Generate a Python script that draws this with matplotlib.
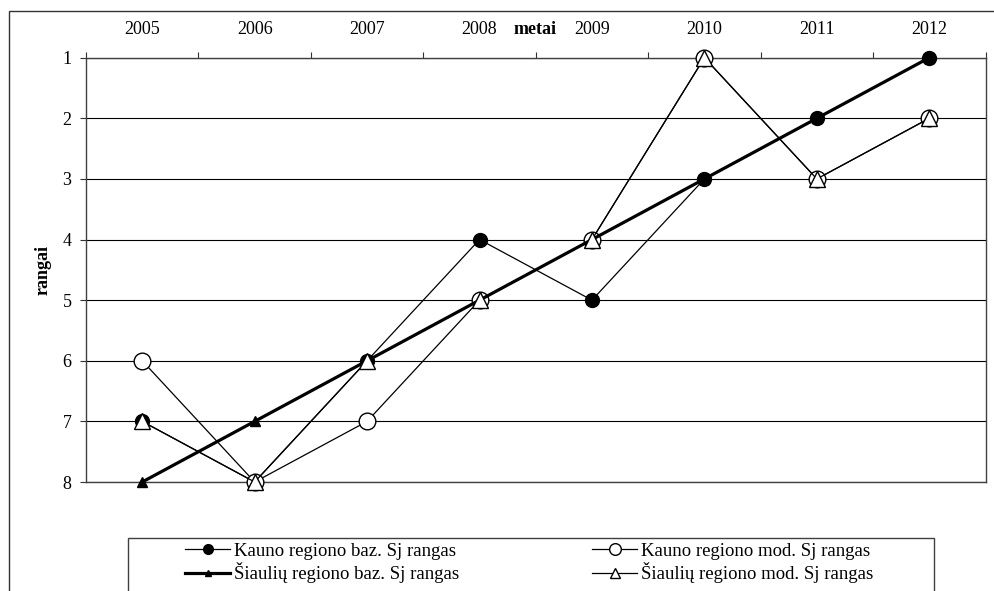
import numpy as np
import matplotlib
matplotlib.use("Agg")
import matplotlib.pyplot as plt
from matplotlib.patches import Rectangle

plt.rcParams['font.family'] = ['Liberation Serif', 'DejaVu Serif']
plt.rcParams['font.size'] = 13

years = ['2005', '2006', '2007', '2008', '2009', '2010', '2011', '2012']
kauno_baz = [7, 8, 6, 4, 5, 3, 2, 1]
kauno_mod = [6, 8, 7, 5, 4, 1, 3, 2]
siauliu_baz = [8, 7, 6, 5, 4, 3, 2, 1]
siauliu_mod = [7, 8, 6, 5, 4, 1, 3, 2]
ranks = [1, 2, 3, 4, 5, 6, 7, 8]

W, H = 994, 591
fig = plt.figure(figsize=(W / 100, H / 100), dpi=100)

# plot area in pixels
left, right, top, bottom = 86, 985.5, 57.7, 482
ax = fig.add_axes([left / W, 1 - bottom / H, (right - left) / W, (bottom - top) / H])

x = np.arange(len(years))

l1, = ax.plot(x, kauno_baz, color='black', lw=0.9, marker='o', ms=10, clip_on=False,
              mfc='black', mec='black', label='Kauno regiono baz. Sj rangas', zorder=3)
l2, = ax.plot(x, kauno_mod, color='black', lw=0.9, marker='o', ms=12, clip_on=False,
              mfc='white', mec='black', mew=1.0, label='Kauno regiono mod. Sj rangas', zorder=4)
l3, = ax.plot(x, siauliu_baz, color='black', lw=2.3, marker='^', ms=7, clip_on=False,
              mfc='black', mec='black', label='Šiaulių regiono baz. Sj rangas', zorder=5)
l4, = ax.plot(x, siauliu_mod, color='black', lw=0.9, marker='^', ms=11, clip_on=False,
              mfc='white', mec='black', mew=1.0, label='Šiaulių regiono mod. Sj rangas', zorder=6)

ax.set_xlim(-0.5, len(years) - 0.5)
ax.set_ylim(8, 1)
ax.set_yticks(ranks)
ax.yaxis.grid(True, color='black', lw=0.8)
ax.set_axisbelow(True)

ax.xaxis.tick_top()
ax.set_xticks(x)
ax.set_xticklabels(years)
ax.set_xticks(np.arange(len(years) + 1) - 0.5, minor=True)
ax.tick_params(axis='x', which='major', length=0, pad=14)
ax.tick_params(axis='x', which='minor', length=4.5, width=0.8, color='#333333', direction='out')
ax.tick_params(axis='y', length=4.5, width=0.8, color='#333333', pad=6)

for s in ax.spines.values():
    s.set_color('#404040')
    s.set_linewidth(1.0)

fig.text(535 / W, 1 - 29 / H, 'metai', fontweight='bold', ha='center', va='center')
fig.text(43 / W, 1 - 270 / H, 'rangai', fontweight='bold', rotation=90,
         ha='center', va='center')

# outer frame (runs off right and bottom edge)
fig.add_artist(Rectangle((9 / W, -0.1), 1.1, (1 - 11 / H) + 0.1, transform=fig.transFigure,
                         fill=False, ec='#333333', lw=1.0))
# legend frame
fig.add_artist(Rectangle((128 / W, -0.05), (934 - 128) / W, (1 - 538 / H) + 0.05,
                         transform=fig.transFigure, fill=False, ec='#404040', lw=1.0))

leg_kw = dict(frameon=False, loc='center left', borderpad=0, borderaxespad=0,
              handlelength=2.4, handletextpad=0.2, labelspacing=0.12, markerscale=0.7,
              fontsize=13.5)
fig.legend(handles=[l1, l3], bbox_to_anchor=(185 / W, 1 - 563 / H), **leg_kw)
fig.legend(handles=[l2, l4], bbox_to_anchor=(592 / W, 1 - 563 / H), **leg_kw)

fig.savefig('out.png', dpi=100)
